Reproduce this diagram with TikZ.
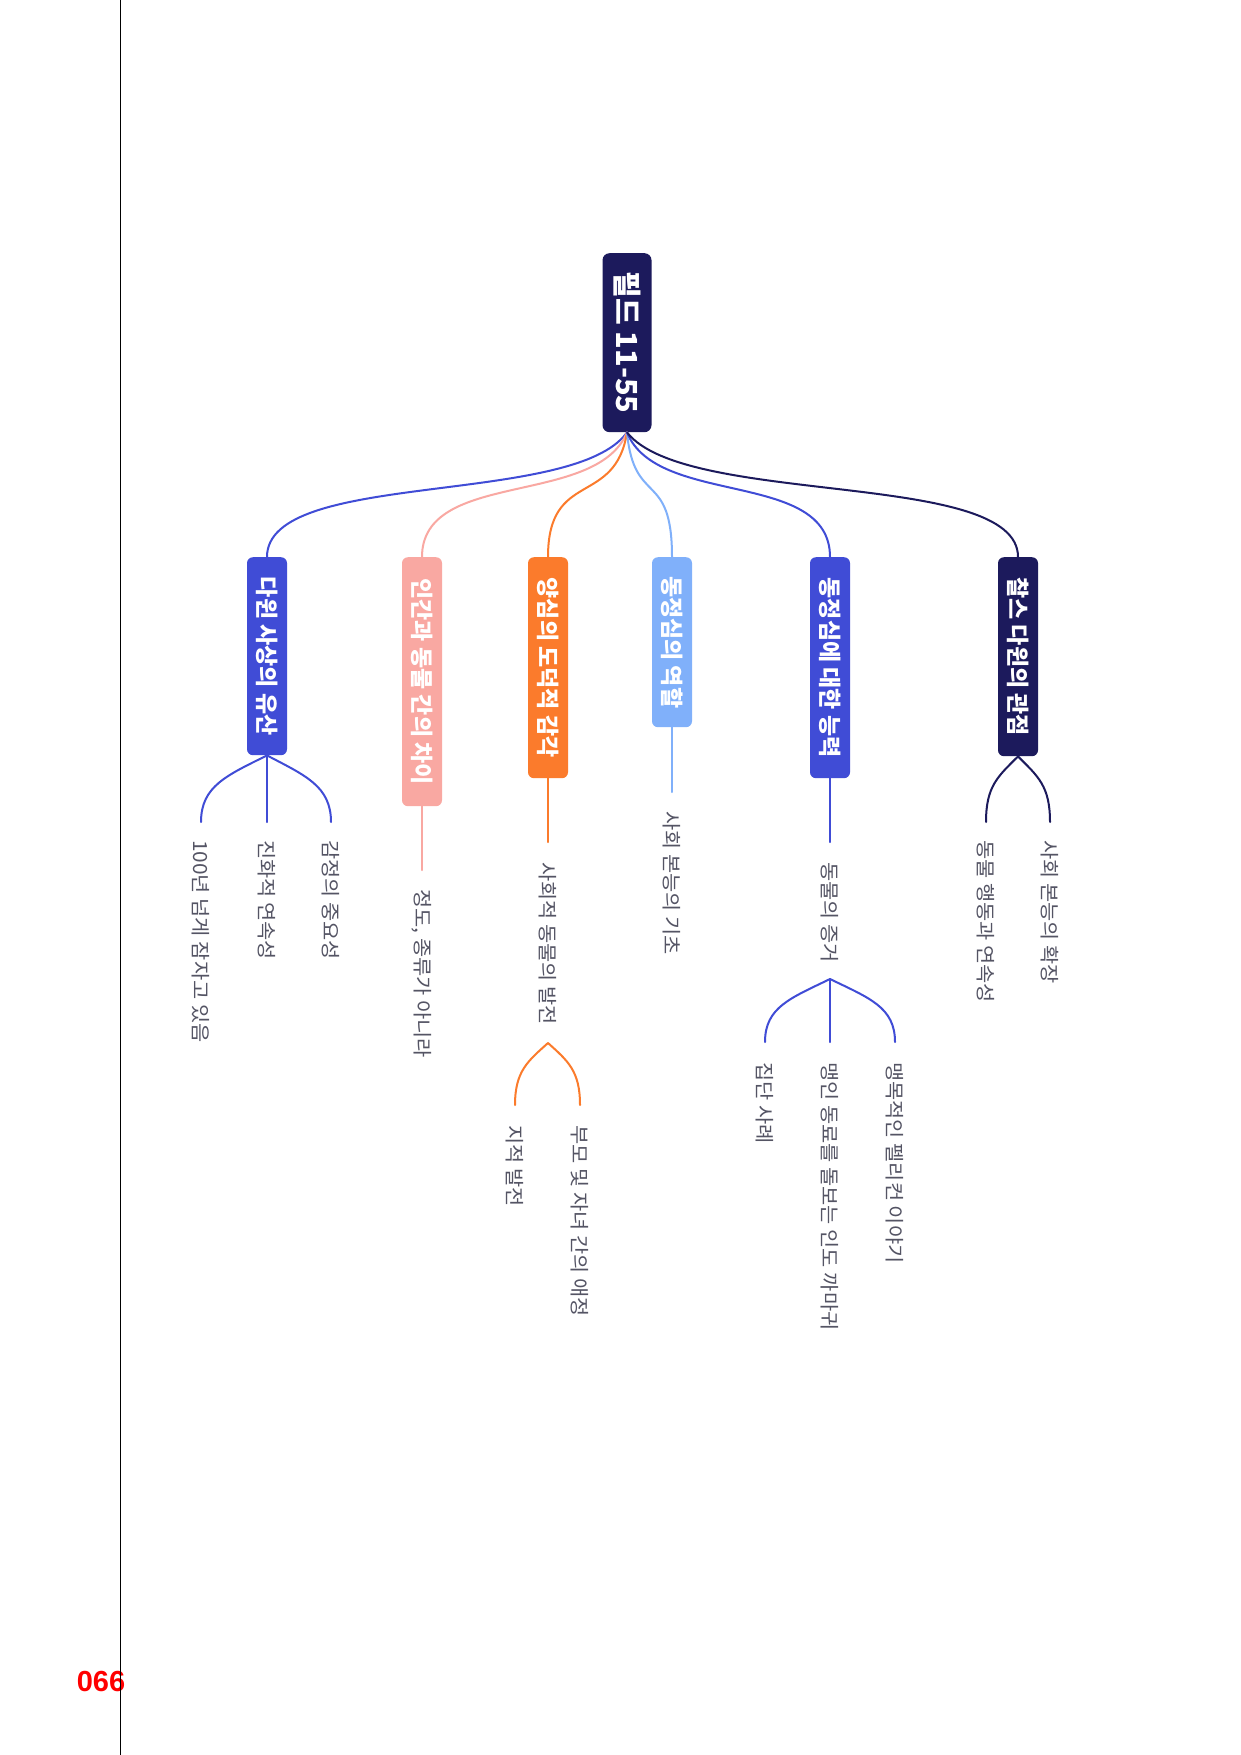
\documentclass[tikz,border=0pt]{standalone}
\usepackage{fontspec}
\newfontfamily\kr{Noto Sans CJK KR}
\newfontfamily\krleaf[FakeStretch=1.07]{Noto Sans CJK KR}
\newfontfamily\numfont{Liberation Sans}
\definecolor{navyc}{RGB}{28,26,92}
\definecolor{bluec}{RGB}{64,76,214}
\definecolor{pinkc}{RGB}{249,168,162}
\definecolor{orangec}{RGB}{251,123,44}
\definecolor{lbluec}{RGB}{128,176,250}
\definecolor{leafc}{RGB}{84,84,100}
\tikzset{
  rootbox/.style={fill=navyc, rounded corners=7pt, rotate=-90, anchor=west,
    minimum height=49pt, inner sep=0pt, text=white,
    font=\kr\bfseries\fontsize{29}{34}\selectfont},
  branchbox/.style={fill=#1, rounded corners=6pt, rotate=-90, anchor=west,
    minimum height=40pt, inner sep=0pt, text=white,
    font=\kr\bfseries\fontsize{23}{28}\selectfont},
  leaf/.style={rotate=-90, anchor=west, inner sep=0pt, text=leafc,
    font=\krleaf\fontsize{19.5}{23}\selectfont},
  conn/.style={draw=#1, line width=2pt, line cap=round},
}
\begin{document}
\begin{tikzpicture}[x=1pt,y=-1pt]
\useasboundingbox (0,0) rectangle (1241,1755);
\fill[white] (0,0) rectangle (1241,1755);

% root
\node[rootbox, minimum width=179pt] (root) at (627,253) {필드 11-55};

% branches
\node[branchbox=bluec,  minimum width=198pt] (b1) at (267,557) {다윈 사상의 유산};
\node[branchbox=pinkc,  minimum width=249pt] (b2) at (422,557) {인간과 동물 간의 차이};
\node[branchbox=orangec,minimum width=221pt] (b3) at (548,557) {양심의 도덕적 감각};
\node[branchbox=lbluec, minimum width=170pt] (b4) at (672,557) {동정심의 역할};
\node[branchbox=bluec,  minimum width=221pt] (b5) at (830,557) {동정심에 대한 능력};
\node[branchbox=navyc,  minimum width=199pt] (b6) at (1018,557) {찰스 다윈의 관점};

% root connectors
\draw[conn=bluec]   (root.east) .. controls +(-54,75) and +(0,-88) .. (b1.west);
\draw[conn=pinkc]   (root.east) .. controls +(-31,75) and +(0,-88) .. (b2.west);
\draw[conn=orangec] (root.east) .. controls +(-12,75) and +(0,-88) .. (b3.west);
\draw[conn=lbluec]  (root.east) .. controls +(7,75) and +(0,-88) .. (b4.west);
\draw[conn=bluec]   (root.east) .. controls +(30,75) and +(0,-88) .. (b5.west);
\draw[conn=navyc]   (root.east) .. controls +(59,75) and +(0,-88) .. (b6.west);

% leaves
\node[leaf] (l11) at (201,840) {100년 넘게 잠자고 있음};
\node[leaf] (l12) at (267,840) {진화적 연속성};
\node[leaf] (l13) at (331,840) {감정의 중요성};
\node[leaf] (l21) at (422,889) {정도, 종류가 아니라};
\node[leaf] (l31) at (548,862) {사회적 동물의 발전};
\node[leaf] (l41) at (672,811) {사회 본능의 기초};
\node[leaf] (l51) at (830,862) {동물의 증거};
\node[leaf] (l61) at (986,840) {동물 행동과 연속성};
\node[leaf] (l62) at (1050,840) {사회 본능의 확장};
\node[leaf] (l311) at (515,1125) {지적 발전};
\node[leaf] (l312) at (580,1125) {부모 및 자녀 간의 애정};
\node[leaf] (l511) at (765,1062) {집단 사례};
\node[leaf] (l512) at (830,1062) {맹인 동료를 돌보는 인도 까마귀};
\node[leaf] (l513) at (895,1062) {맹목적인 펠리컨 이야기};

% fork points
\coordinate (f31) at (548,1043);
\coordinate (f51) at (830,979);

% branch 1
\draw[conn=bluec] (b1.east) .. controls +(-40,20) and +(0,-36) .. ([yshift=18pt]l11.west);
\draw[conn=bluec] (b1.east) -- ([yshift=18pt]l12.west);
\draw[conn=bluec] (b1.east) .. controls +(38,20) and +(0,-36) .. ([yshift=18pt]l13.west);
% branch 2
\draw[conn=pinkc] (b2.east) -- ([yshift=19pt]l21.west);
% branch 3
\draw[conn=orangec] (b3.east) -- ([yshift=20pt]l31.west);
\draw[conn=orangec] (f31) .. controls +(-20,18) and +(0,-34) .. ([yshift=20pt]l311.west);
\draw[conn=orangec] (f31) .. controls +(20,18) and +(0,-34) .. ([yshift=20pt]l312.west);
% branch 4
\draw[conn=lbluec] (b4.east) -- ([yshift=19pt]l41.west);
% branch 5
\draw[conn=bluec] (b5.east) -- ([yshift=20pt]l51.west);
\draw[conn=bluec] (f51) .. controls +(-39,19) and +(0,-35) .. ([yshift=20pt]l511.west);
\draw[conn=bluec] (f51) -- ([yshift=20pt]l512.west);
\draw[conn=bluec] (f51) .. controls +(39,19) and +(0,-35) .. ([yshift=20pt]l513.west);
% branch 6
\draw[conn=navyc] (b6.east) .. controls +(-20,20) and +(0,-36) .. ([yshift=18pt]l61.west);
\draw[conn=navyc] (b6.east) .. controls +(20,20) and +(0,-36) .. ([yshift=18pt]l62.west);

% page number and margin line
\node[text=red, font=\numfont\bfseries\fontsize{29}{34}\selectfont, inner sep=0pt] (pg) at (101,1681) {066};
\coordinate (mtop) at (120,0);
\coordinate (mbot) at (120,1755);
\draw[line width=1pt, black] (mtop) -- (mbot);
\end{tikzpicture}
\end{document}
